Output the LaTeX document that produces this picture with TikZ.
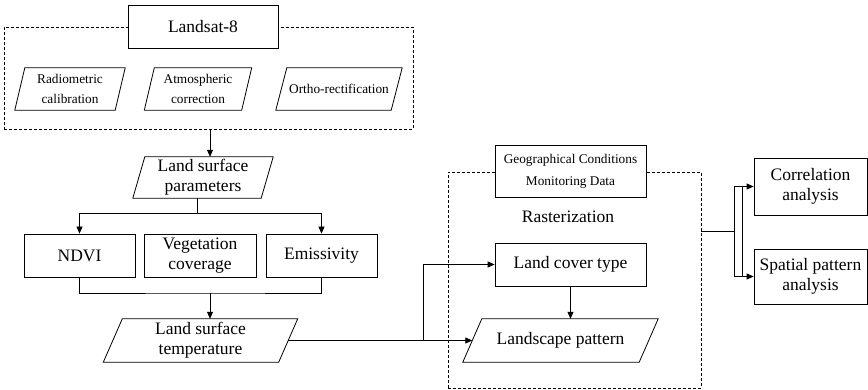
\documentclass[tikz,border=0pt]{standalone}
\usepackage{fontspec}
\setmainfont{Liberation Serif}
\usetikzlibrary{arrows.meta,calc}

% slanted frame drawn around a borderless rectangle node
\newcommand\slantframe[2]{%
  \draw[boxline] ([xshift=#2]#1.north west) -- ([xshift=#2]#1.north east)
    -- ([xshift=-#2]#1.south east) -- ([xshift=-#2]#1.south west) -- cycle;}

\begin{document}
\begin{tikzpicture}[x=1pt,y=-1pt,
  boxline/.style={line width=0.8pt},
  big/.style={font=\fontsize{17.5}{20}\selectfont},
  small/.style={font=\fontsize{13.3}{20}\selectfont},
  stepbox/.style={draw,boxline,fill=white,inner sep=0pt,align=center,big},
  slanted/.style={inner sep=0pt,align=center},
  frame/.style={draw,line width=0.7pt,dash pattern=on 3pt off 2pt,inner sep=0pt},
  arr/.style={line width=0.8pt,-{Triangle[length=7pt,width=6pt]}},
  link/.style={line width=0.8pt}]
\useasboundingbox (0,0) rectangle (868,390);

% ---- Landsat preprocessing block ----
\node[frame,minimum width=409pt,minimum height=102pt] (f1) at (208.5,78) {};
\node[stepbox,minimum width=150pt,minimum height=43pt] (ls) at (203,26.5) {Landsat-8};
\node[slanted,small,minimum width=100pt,minimum height=42pt] (rad) at (70,89) {Radiometric\\calibration};
\slantframe{rad}{5pt}
\node[slanted,small,minimum width=97pt,minimum height=42pt] (atm) at (198,89) {Atmospheric\\correction};
\slantframe{atm}{5pt}
\node[slanted,small,minimum width=115pt,minimum height=42pt] (ort) at (339,89) {Ortho-rectification};
\slantframe{ort}{5.5pt}

% ---- Land surface parameters ----
\node[slanted,big,minimum width=128pt,minimum height=41pt] (lsp) at (203,177.5) {Land surface\\parameters};
\slantframe{lsp}{6pt}
\draw[arr] ([xshift=1.5pt]f1.south) -- ([xshift=1.5pt]f1.south |- lsp.north);

\node[stepbox,minimum width=111pt,minimum height=43pt] (ndvi) at (79.5,255.5) {NDVI};
\node[stepbox,minimum width=112pt,minimum height=43pt] (veg) at (200,255.5) {Vegetation\\coverage};
\node[stepbox,minimum width=111pt,minimum height=43pt] (emi) at (321.5,255.5) {Emissivity};

\coordinate (sp) at ($(lsp.south)+(-6,15)$);
\draw[link] ([xshift=-6pt]lsp.south) -- (sp);
\draw[arr] (sp) -| (ndvi.north);
\draw[arr] (sp) -| (emi.north);

% ---- Land surface temperature ----
\node[slanted,big,minimum width=175pt,minimum height=43pt] (lst) at (200.5,340.5) {Land surface\\temperature};
\slantframe{lst}{9.5pt}
\coordinate (jb) at (210,293);
\draw[link] (ndvi.south) |- (jb) -| (emi.south);
\draw[arr] (jb) -- (jb |- lst.north);

% ---- Geographical conditions block ----
\node[frame,minimum width=253pt,minimum height=216pt] (f2) at (574.5,280) {};
\node[stepbox,font=\fontsize{13.3}{22}\selectfont,minimum width=151pt,minimum height=52pt] (geo) at (570.5,171) {Geographical Conditions\\Monitoring Data};
\node[big,inner sep=0pt] (ras) at (568,217) {Rasterization};
\node[stepbox,minimum width=151pt,minimum height=43pt] (lct) at (570.5,264.5) {Land cover type};
\node[slanted,big,minimum width=176pt,minimum height=43pt] (lp) at (560.5,340.5) {Landscape pattern};
\slantframe{lp}{9.5pt}
\draw[arr] (lct.south) -- (lct.south |- lp.north);

\coordinate (jl) at (423,340.5);
\draw[arr] (lst.east) -- (lp.west);
\draw[arr] (jl) |- (lct.west);

% ---- Analyses ----
\node[stepbox,minimum width=113pt,minimum height=57pt] (cor) at (810.5,186.5) {Correlation\\analysis};
\node[stepbox,minimum width=113pt,minimum height=55pt] (spa) at (810.5,276.5) {Spatial pattern\\analysis};
\coordinate (jr) at (734,231);
\draw[link] (f2.east |- jr) -- (jr);
\draw[arr] (jr) |- (cor.west);
\draw[arr] (jr) |- (spa.west);
\draw[link] ([xshift=-11pt]cor.west) -- ([xshift=-11pt]spa.west);
\end{tikzpicture}
\end{document}
